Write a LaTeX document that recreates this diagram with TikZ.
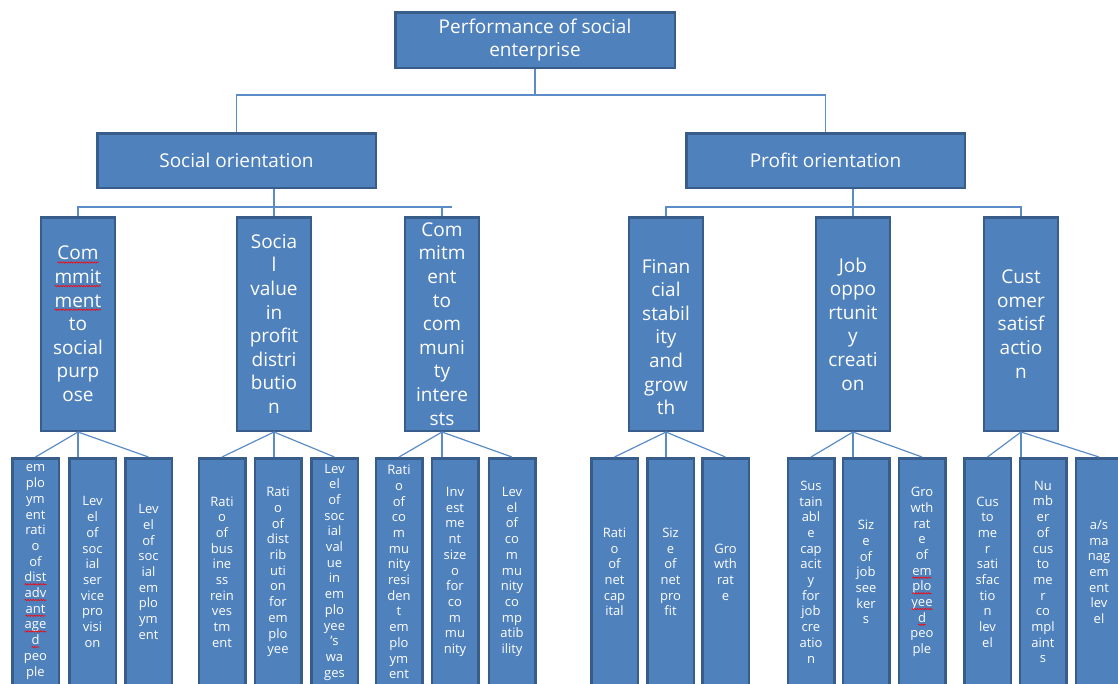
\documentclass[tikz,border=0pt]{standalone}
\usepackage{fontspec}
\setmainfont{Open Sans}
\usepackage{tikz}
\usetikzlibrary{decorations.pathmorphing}
\definecolor{boxfill}{HTML}{4F81BD}
\definecolor{boxline}{HTML}{385D8A}
\definecolor{linkcol}{HTML}{5B8CC8}
\newcommand*\boxfont {\fontsize{19}{23.6}\selectfont}
\newcommand*\leaffont{\fontsize{13}{15.7}\selectfont}
% red spell-check wave under a word
\newcommand*\typo[1]{\tikz[baseline=(typo.base)]{
    \node[draw=none, fill=none, inner sep=0pt, outer sep=0pt, minimum size=0pt,
          text=white] (typo) {#1};
    \draw[red, line width=0.6pt, decorate, decoration={snake, amplitude=0.7pt, segment length=2.6pt}]
        ([yshift=-2.5pt]typo.base west) -- ([yshift=-2.5pt]typo.base east);}}
\tikzset{
    box/.style      = {draw=boxline, fill=boxfill, line width=2.5pt, text=white,
                       align=center, inner sep=0pt, font=\boxfont},
    headbox/.style  = {box, minimum width=279.5pt, minimum height=55.5pt},
    groupbox/.style = {box, minimum width=278.5pt, minimum height=54.5pt},
    midbox/.style   = {box, minimum width=74pt, minimum height=213.5pt},
    leafbox/.style  = {box, minimum width=46.5pt, minimum height=227.5pt, font=\leaffont},
    link/.style     = {draw=linkcol, line width=1.2pt},
  }

\begin{document}
\begin{tikzpicture}[x=1pt,y=-1pt]
        \useasboundingbox (0,0) rectangle (1118,683);

        % top and the two orientations
        \node[headbox]  (perf)   at (535,40)      {Performance of social\\enterprise};
        \node[groupbox] (social) at (236.5,160.5) {Social orientation};
        \node[groupbox] (profit) at (825.5,160.5) {Profit orientation};

        % middle row
        \node[midbox] (m1) at (78,324)  {\typo{Com}\\\typo{mmit}\\\typo{ment}\\to\\social\\purp\\ose};
        \node[midbox] (m2) at (274,324) {Socia\\l\\value\\in\\profit\\distri\\butio\\n};
        \node[midbox] (m3) at (442,324) {Com\\mitm\\ent\\to\\com\\muni\\ty\\intere\\sts};
        \node[midbox] (m4) at (666,324) {\strut\\Finan\\cial\\stabil\\ity\\and\\grow\\th};
        \node[midbox] (m5) at (853,324) {Job\\oppo\\rtunit\\y\\creati\\on};
        \node[midbox] (m6) at (1021,324) {Cust\\omer\\satisf\\actio\\n};

        % bottom row, three under each middle box
        \foreach \x/\t [count=\i from 1] in {
            35.5/{em\\plo\\ym\\ent\\rati\\o\\of\\\typo{dist}\\\typo{adv}\\\typo{ant}\\\typo{age}\\\typo{d}\\peo\\ple},
            92.5/{Lev\\el\\of\\soc\\ial\\ser\\vice\\pro\\visi\\on},
            148.5/{Lev\\el\\of\\soc\\ial\\em\\plo\\ym\\ent},
            222/{Rati\\o\\of\\bus\\ine\\ss\\rein\\ves\\tm\\ent},
            278/{Rati\\o\\of\\dist\\rib\\uti\\on\\for\\em\\plo\\yee},
            334.5/{Lev\\el\\of\\soc\\ial\\val\\ue\\in\\em\\plo\\yee\\’s\\wa\\ges},
            399/{Rati\\o\\of\\co\\m\\mu\\nity\\resi\\den\\t\\em\\plo\\ym\\ent},
            455/{Inv\\est\\me\\nt\\size\\o\\for\\co\\m\\mu\\nity},
            512/{Lev\\el\\of\\co\\m\\mu\\nity\\co\\mp\\atib\\ility},
            614.5/{Rati\\o\\of\\net\\cap\\ital},
            670.5/{Siz\\e\\of\\net\\pro\\fit},
            725.5/{Gro\\wth\\rat\\e},
            811/{Sus\\tain\\abl\\e\\cap\\acit\\y\\for\\job\\cre\\atio\\n},
            866/{Siz\\e\\of\\job\\see\\ker\\s},
            922/{Gro\\wth\\rat\\e\\of\\\typo{em}\\\typo{plo}\\\typo{yee}\\\typo{d}\\peo\\ple},
            987.5/{Cus\\to\\me\\r\\sati\\sfac\\tio\\n\\lev\\el},
            1043/{Nu\\mb\\er\\of\\cus\\to\\me\\r\\co\\mpl\\aint\\s},
            1099/{a/s\\ma\\nag\\em\\ent\\lev\\el}} {
            \node[leafbox] (l\i) at (\x,572) {\t};
        }

        % connectors from the top box
        \coordinate (bus) at (535,95);
        \draw[link] (perf.south) -- (bus) -| (social.north);
        \draw[link] (bus) -| (profit.north);

        % connectors to the middle row
        \coordinate (sbus) at (452,207);
        \coordinate (pbus) at (853,207);
        \draw[link] (m2.north |- social.south) -- (m2.north);
        \draw[link] (m1.north) |- (sbus);
        \draw[link] (m3.north) -- (m3.north |- sbus);
        \draw[link] (m5.north |- profit.south) -- (m5.north);
        \draw[link] (m4.north) |- (pbus) -| (m6.north);

        % connectors to the bottom row
        \foreach \p/\a/\b/\c in {m1/l1/l2/l3, m2/l4/l5/l6, m3/l7/l8/l9,
                                 m4/l10/l11/l12, m5/l13/l14/l15, m6/l16/l17/l18} {
            \draw[link] (\p.south) -- (\a.north);
            \draw[link] (\p.south) -- (\p.south |- \b.north);
            \draw[link] (\p.south) -- (\c.north);
        }
    \end{tikzpicture}
\end{document}
